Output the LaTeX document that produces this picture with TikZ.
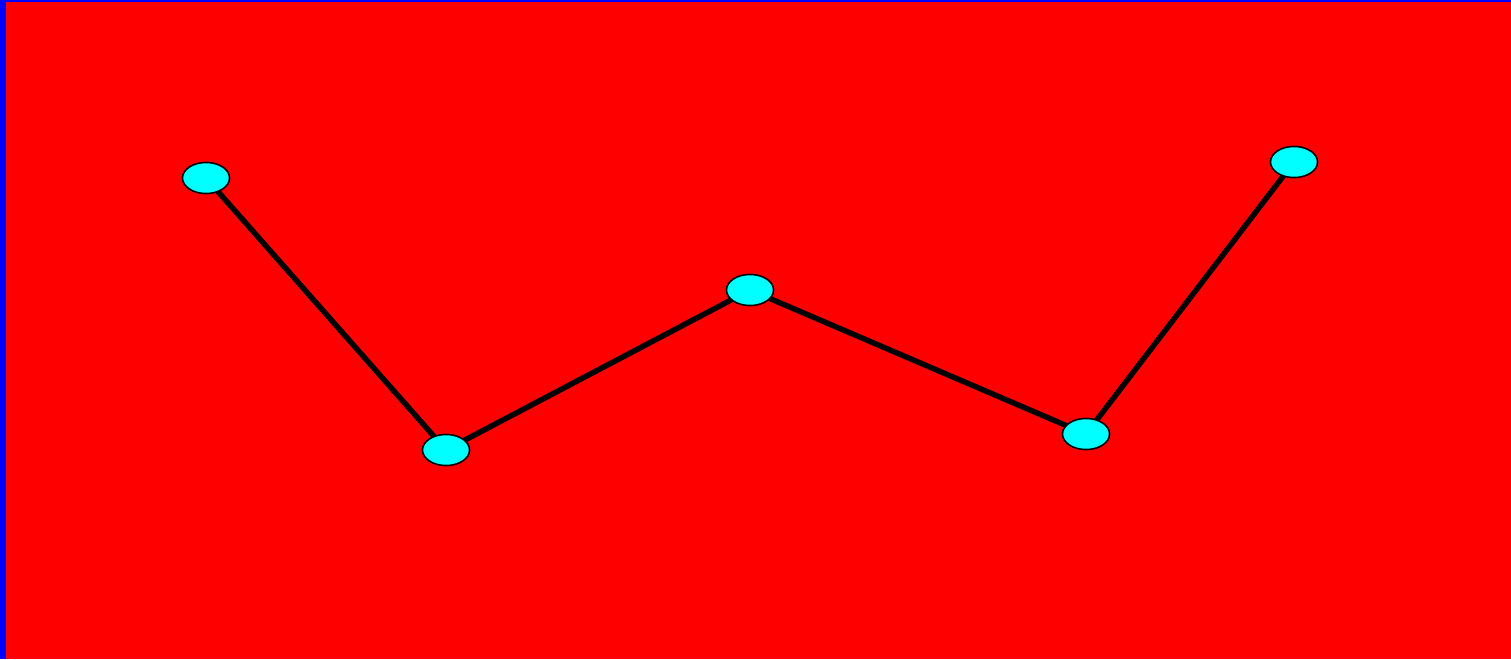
\documentclass[tikz,border=0pt]{standalone}
\usetikzlibrary{shapes.geometric}
\definecolor{dotfill}{RGB}{0,255,255}
\definecolor{field}{RGB}{255,0,0}
\definecolor{edge}{RGB}{0,0,255}
\begin{document}
\begin{tikzpicture}[x=1pt,y=-1pt,
  dot/.style={ellipse,draw=black,line width=1.5pt,fill=dotfill,minimum width=47pt,minimum height=31pt,inner sep=0pt},
  link/.style={line width=5.5pt,draw=black}]
  % frame: blue edge, red field
  \fill[edge] (0,0) rectangle (1511,659);
  \fill[field] (6,2) rectangle (1511,659);
  \useasboundingbox (0,0) rectangle (1511,659);
  \node[dot] (a) at (206,178) {};
  \node[dot] (b) at (446,450) {};
  \node[dot] (c) at (750,290) {};
  \node[dot] (d) at (1086,434) {};
  \node[dot] (e) at (1294,162) {};
  \draw[link] (a.center) -- (b.center) -- (c.center) -- (d.center) -- (e.center);
  \node[dot] at (a) {};
  \node[dot] at (b) {};
  \node[dot] at (c) {};
  \node[dot] at (d) {};
  \node[dot] at (e) {};
\end{tikzpicture}
\end{document}
